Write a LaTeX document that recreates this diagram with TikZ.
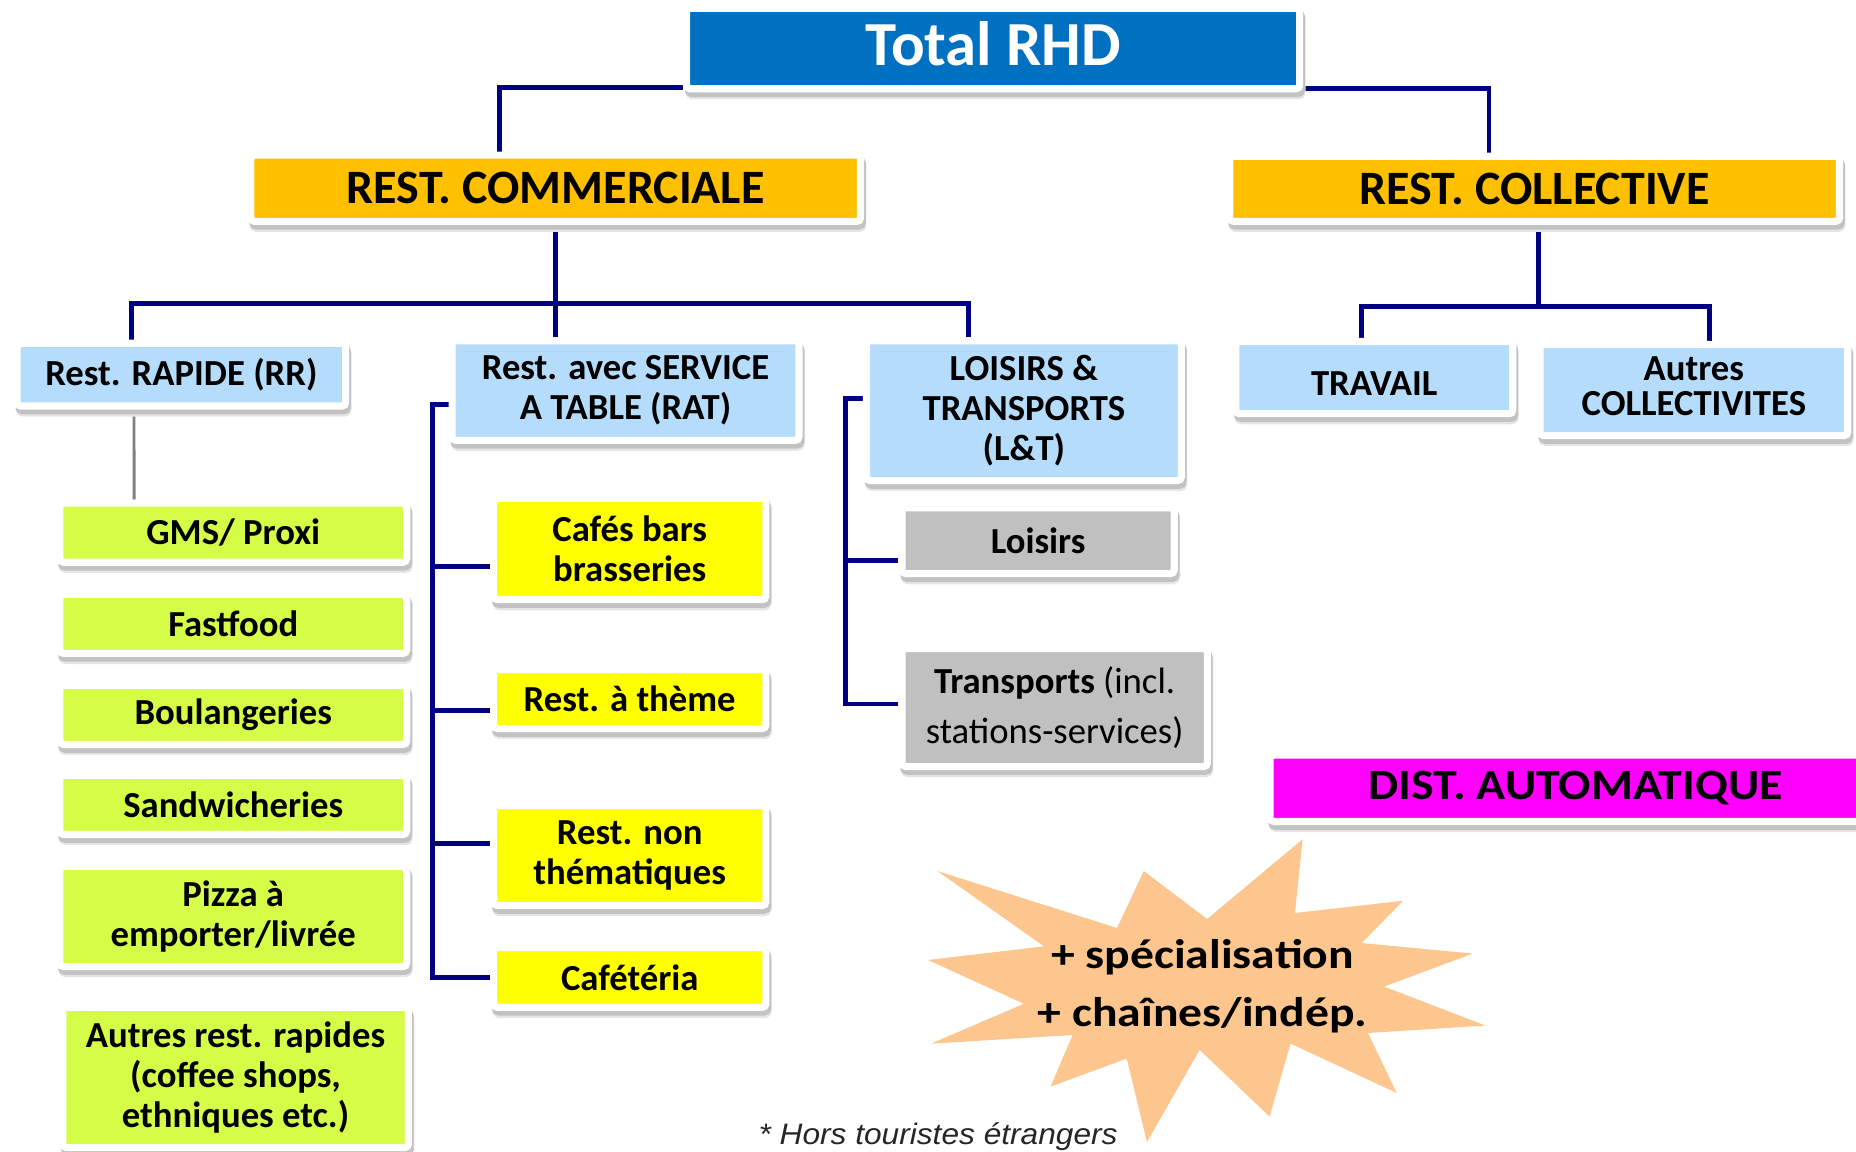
\documentclass[tikz,border=0pt]{standalone}
\usepackage{fontspec}
\setmainfont{Carlito}
\newfontfamily\footfont{Liberation Sans}
\usetikzlibrary{calc}
\pgfdeclarelayer{bg}
\pgfsetlayers{bg,main}
\definecolor{cBlue}{HTML}{0070C0}
\definecolor{cOrange}{HTML}{FFC000}
\definecolor{cLBlue}{RGB}{182,220,252}
\definecolor{cGreen}{RGB}{213,253,72}
\definecolor{cYellow}{HTML}{FFFF00}
\definecolor{cGray}{HTML}{C0C0C0}
\definecolor{cMag}{HTML}{FF00FF}
\definecolor{cStar}{RGB}{252,198,142}
\definecolor{cNavy}{HTML}{000080}
\definecolor{cLine}{HTML}{808080}
\newcommand\mybox[7]{%
  \pgfmathsetmacro\mybxw{#5-#3+6}%
  \pgfmathsetmacro\mybxh{#6-#4+6}%
  \pgfmathsetmacro\mybxcx{(#3+#5)/2}%
  \pgfmathsetmacro\mybxcy{(#4+#6)/2}%
  \node[#2, minimum width=\mybxw pt, minimum height=\mybxh pt] (#1) at (\mybxcx,\mybxcy) {#7};}
\tikzset{
  frame/.style={rectangle, draw=white, line width=6pt, rounded corners=3pt, inner sep=0pt, align=center,
    preaction={fill=black!10, draw=black!10, line width=6pt, transform canvas={xshift=2pt,yshift=-6pt}},
    preaction={fill=black!24, draw=black!24, line width=6pt, transform canvas={xshift=1.5pt,yshift=-4pt}}},
  totbox/.style={frame, fill=cBlue, text=white, font=\bfseries\fontsize{53}{60}\selectfont},
  lvltwo/.style={frame, fill=cOrange, font=\bfseries\fontsize{40.5}{44}\selectfont},
  lvlthree/.style={frame, fill=cLBlue, font=\bfseries\fontsize{31}{34}\selectfont},
  rrbox/.style={frame, fill=cGreen, font=\bfseries\fontsize{31}{34}\selectfont},
  ratbox/.style={frame, fill=cYellow, font=\bfseries\fontsize{31}{34}\selectfont},
  ltbox/.style={frame, fill=cGray, font=\bfseries\fontsize{31}{34}\selectfont},
  distbox/.style={frame, fill=cMag, font=\bfseries\fontsize{36.5}{40}\selectfont},
  conn/.style={draw=cNavy, line width=4pt},
  grayline/.style={draw=cLine, line width=2.4pt},
  starfill/.style={fill=cStar},
  startext/.style={inner sep=0pt, font=\bfseries\fontsize{35}{49}\selectfont},
  foot/.style={inner sep=0pt, text=black!85, font=\footfont\itshape\fontsize{25}{30}\selectfont},
}
\begin{document}
\begin{tikzpicture}[x=1pt,y=-1pt]
\useasboundingbox (0,0) rectangle (1568,973);
% level 1
\mybox{top}{totbox}{583}{10}{1095}{72}{\raisebox{4pt}[\height][\depth]{Total RHD}}
% level 2
\mybox{com}{lvltwo}{215}{134}{724}{184}{REST. COMMERCIALE}
\mybox{col}{lvltwo}{1042}{135}{1551}{184}{REST. COLLECTIVE}
% level 3
\mybox{rr}{lvlthree}{17.5}{293}{289}{340}{Rest. RAPIDE (RR)}
\mybox{rat}{lvlthree}{385}{291}{672}{369}{Rest. avec SERVICE\\A TABLE (RAT)}
\mybox{lt}{lvlthree}{735}{291}{995}{403}{LOISIRS \&\\TRANSPORTS\\(L\&T)}
\mybox{trav}{lvlthree}{1047}{291.5}{1275}{346.5}{\raisebox{-5pt}[\height][\depth]{TRAVAIL}}
\mybox{autc}{lvlthree}{1304}{294}{1558}{365}{\begin{tabular}{@{}c@{}}Autres\\[-5pt]COLLECTIVITES\end{tabular}}
% RR children
\mybox{gms}{rrbox}{53.5}{428}{340.6}{472}{GMS/ Proxi}
\mybox{fast}{rrbox}{53.5}{505}{340.6}{549}{Fastfood}
\mybox{boul}{rrbox}{53.5}{582}{340.6}{626}{Boulangeries}
\mybox{sand}{rrbox}{53.5}{658}{340.6}{702}{Sandwicheries}
\mybox{pizza}{rrbox}{53.5}{735}{340.6}{813.6}{Pizza à\\emporter/livrée}
\mybox{autr}{rrbox}{56}{854}{342}{966.5}{Autres rest. rapides\\(coffee shops,\\ethniques etc.)}
% RAT children
\mybox{cafes}{ratbox}{420}{424}{644}{503.6}{Cafés bars\\brasseries}
\mybox{theme}{ratbox}{420}{568.6}{644}{612.5}{Rest. à thème}
\mybox{nonth}{ratbox}{420}{683.6}{644}{762}{Rest. non\\thématiques}
\mybox{cafet}{ratbox}{420}{803.6}{644}{848}{Cafétéria}
% L&T children
\mybox{lois}{ltbox}{765}{432}{989}{481.6}{Loisirs}
\mybox{transp}{ltbox, font=\mdseries\fontsize{31}{42}\selectfont}{765}{551}{1017}{644.6}{\textbf{Transports} (incl.\\stations-services)}
% distribution
\mybox{dist}{distbox}{1076}{641}{1586}{691}{\scalebox{1.11}[1]{DIST. AUTOMATIQUE}}
% star
\fill[starfill] (1100.5,709) -- (1094,771.3) -- (1185.3,761) -- (1150.4,796.7) -- (1244.2,805.6)
  -- (1169.3,833.5) -- (1255,866.4) -- (1155.7,872.7) -- (1180,923.4) -- (1090.3,881.7)
  -- (1072.6,943.3) -- (1013.5,887) -- (969,964.8) -- (951.9,894.3) -- (887.5,918)
  -- (906.2,874.4) -- (786.5,881.7) -- (865,848) -- (784,811) -- (882,799.5)
  -- (792,735.9) -- (943.7,784) -- (966.3,735.9) -- (1019.8,776.4) -- cycle;
\node[startext, anchor=base] (stxt) at (1016,818) {\scalebox{1.15}[1]{\begin{tabular}[t]{@{}c@{}}+ spécialisation\\+ chaînes/indép.\end{tabular}}};
% footnote
\node[foot, anchor=base] (note) at (792.5,967) {\scalebox{1.07}[1]{* Hors touristes étrangers}};
% connectors
\begin{pgfonlayer}{bg}
\draw[conn] ($(top.south west)+(0,-4)$) -| ($(com.north)+(-47.5,0)$);
\draw[conn] ($(top.south east)+(0,-3)$) -| ($(col.north)+(-38.5,0)$);
\draw[conn] (com.south) -- (com.south |- rat.north);
\draw[conn] ($(rr.north)+(-42,0)$) |- ($(com.south)+(0,66.5)$) -| ($(lt.north)+(-47,0)$);
\draw[conn] ($(col.south)+(3.5,0)$) -- ++(0,69);
\draw[conn] ($(trav.north)+(-10.5,0)$) |- ($(col.south)+(3.5,69)$) -| ($(autc.north)+(13,0)$);
\draw[grayline] ($(rr.south)+(-40,0)$) -- ($(gms.north)+(-83.75,0)$);
\draw[conn] ($(rat.west)+(0,12)$) -| ($(cafet.west)+(-48.5,0)$) -- (cafet.west);
\draw[conn] ($(cafes.west)+(0,15)$) -- ++(-48.5,0);
\draw[conn] ($(theme.west)+(0,10)$) -- ++(-48.5,0);
\draw[conn] ($(nonth.west)+(0,-10)$) -- ++(-48.5,0);
\draw[conn] ($(lt.west)+(0,-10.5)$) -| ($(transp.west)+(-44.5,-3)$) -- ($(transp.west)+(0,-3)$);
\draw[conn] ($(lois.west)+(0,17)$) -- ++(-44.5,0);
\end{pgfonlayer}
\end{tikzpicture}
\end{document}
